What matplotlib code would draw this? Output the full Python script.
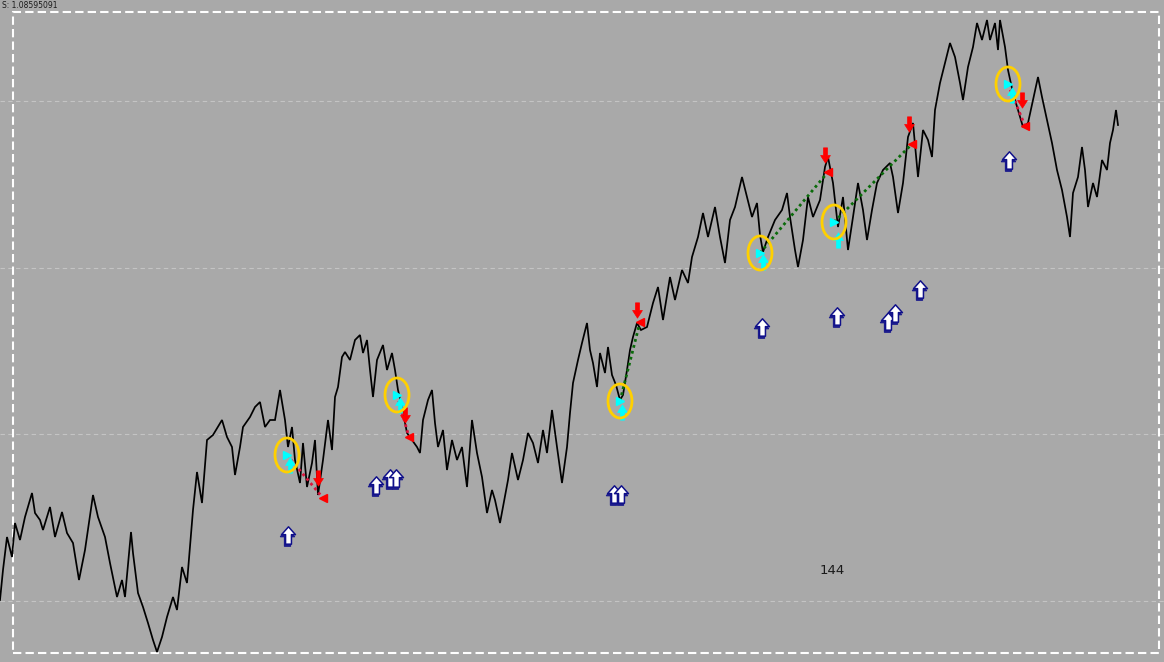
import matplotlib
matplotlib.use("Agg")
import matplotlib.pyplot as plt
from matplotlib.path import Path
from matplotlib.patches import Ellipse, Rectangle
import numpy as np

# ---- price series (bar index, price level) ----
bar_x = [0, 3, 7, 12, 15, 20, 25, 32, 35, 40, 43, 50, 55, 62, 67, 73, 79, 85, 93, 98,
         105, 110, 117, 122, 125, 131, 133, 138, 143, 148, 153, 157, 162, 167, 173, 177, 182, 187,
         193, 197, 202, 207, 213, 222, 227, 232, 235, 240, 243, 250, 255, 260, 265, 270, 275, 280,
         285, 288, 292, 295, 300, 303, 307, 312, 315, 318, 323, 328, 332, 335, 338, 342, 345, 350,
         355, 360, 363, 367, 370, 373, 377, 383, 387, 392, 395, 398, 402, 407, 412, 417, 420, 423,
         428, 432, 435, 438, 443, 447, 452, 457, 462, 467, 472, 477, 482, 487, 492, 495, 500, 503,
         508, 512, 518, 523, 528, 533, 538, 543, 547, 552, 557, 562, 567, 570, 573, 578, 582, 587,
         590, 593, 597, 600, 605, 608, 612, 616, 620, 623, 627, 630, 633, 637, 641, 647, 653, 658,
         663, 670, 675, 682, 688, 692, 698, 703, 708, 715, 720, 725, 730, 735, 742, 747, 752, 757,
         760, 763, 768, 775, 782, 787, 790, 795, 798, 803, 808, 813, 820, 825, 828, 833, 838, 843,
         848, 853, 858, 863, 867, 872, 877, 883, 890, 893, 898, 903, 908, 913, 918, 923, 928, 932,
         935, 940, 945, 950, 955, 960, 963, 968, 973, 977, 982, 987, 990, 995, 998, 1000, 1005,
         1008, 1013, 1018, 1023, 1028, 1033, 1038, 1042, 1047, 1052, 1057, 1062, 1067, 1070, 1073,
         1078, 1082, 1085, 1088, 1093, 1097, 1102, 1107, 1110, 1113, 1116, 1118]
price = [62, 92, 125, 105, 139, 122, 145, 169, 149, 142, 132, 155, 125, 150, 129, 119, 82, 112, 167, 145,
         125, 99, 65, 82, 65, 130, 109, 69, 55, 39, 22, 10, 25, 45, 65, 52, 95, 79,
         152, 190, 159, 222, 227, 242, 225, 215, 187, 215, 235, 245, 255, 260, 235, 242, 242, 272,
         242, 215, 235, 202, 179, 219, 175, 199, 222, 167, 202, 242, 212, 265, 275, 305, 310, 302,
         322, 327, 309, 322, 292, 265, 302, 317, 292, 309, 292, 272, 255, 229, 222, 215, 209, 242,
         262, 272, 239, 215, 232, 192, 222, 202, 215, 175, 242, 209, 185, 149, 172, 162, 139, 155,
         182, 209, 182, 202, 229, 219, 199, 232, 209, 252, 215, 179, 215, 249, 279, 302, 319, 339,
         312, 299, 275, 309, 289, 315, 287, 277, 262, 267, 292, 312, 325, 339, 332, 335, 359, 375,
         342, 385, 362, 392, 379, 405, 425, 449, 425, 455, 425, 399, 442, 455, 485, 465, 445, 459,
         427, 410, 425, 442, 452, 469, 445, 412, 395, 422, 465, 445, 462, 495, 505, 479, 435, 465,
         412, 445, 479, 452, 422, 452, 479, 492, 499, 485, 449, 479, 525, 539, 485, 532, 522, 505,
         552, 579, 599, 619, 605, 579, 562, 595, 615, 639, 622, 642, 622, 639, 612, 642, 615,
         592, 569, 552, 535, 539, 562, 585, 565, 542, 519, 492, 472, 445, 425, 469,
         485, 515, 492, 455, 479, 465, 502, 492, 519, 532, 552, 537]

grid_levels = [561, 394, 228, 61]

# ---- trade signals ----
entry_x = [287, 397, 620, 760, 834, 1008]
entry_y = [207, 267, 261, 409, 440, 578]
exit_x = [323, 409, 640, 828, 912, 1025]
exit_y = [164, 225, 340, 490, 518, 536]
trade_dir = ["down", "down", "up", "up", "up", "down"]
sell_arrow_x = [318, 405, 637, 825, 909, 1022]
sell_arrow_y = [184, 247, 352, 507, 538, 562]
cyan_arrow_x = [290, 400, 622, 763, 838, 1012]
cyan_arrow_y = [197, 257, 250, 400, 422, 567]
buy_x = [288, 376, 390, 396, 614, 621, 762, 837, 888, 895, 920, 1009]
buy_y = [127, 177, 184, 184, 168, 168, 335, 346, 341, 349, 373, 502]
label_text = "144"
label_pos = (832, 92)
header_text = "S: 1.08595091"

BG = "#A9A9A9"
fig = plt.figure(figsize=(11.64, 6.62), dpi=100, facecolor=BG)
ax = fig.add_axes([0, 0, 1, 1])
ax.set_facecolor(BG)
ax.set_xlim(0, 1164)
ax.set_ylim(0, 662)
ax.axis("off")

for g in grid_levels:
    ax.axhline(g, color="#C4C4C4", lw=0.8, ls=(0, (4, 3)), zorder=1)

ax.add_patch(Rectangle((13, 9), 1146, 641, fill=False, ec="white", lw=1.5,
                       ls=(0, (4, 2)), zorder=2))

ax.plot(bar_x, price, color="black", lw=1.25, zorder=3, solid_joinstyle="miter")

# arrow shapes
down_arrow = Path([(-0.13, 0.5), (0.13, 0.5), (0.13, 0.0), (0.32, 0.0), (0, -0.5),
                   (-0.32, 0.0), (-0.13, 0.0), (-0.13, 0.5)], closed=True)
up_arrow = Path([(-0.13, -0.5), (0.13, -0.5), (0.13, 0.0), (0.32, 0.0), (0, 0.5),
                 (-0.32, 0.0), (-0.13, 0.0), (-0.13, -0.5)], closed=True)
hollow_up = Path([(0, 0.5), (0.4, 0.05), (0.17, 0.05), (0.17, -0.5), (-0.17, -0.5),
                  (-0.17, 0.05), (-0.4, 0.05), (0, 0.5)], closed=True)

# dotted trade lines
for i in range(len(entry_x)):
    c = "#DC143C" if trade_dir[i] == "down" else "#0A6A0A"
    ax.plot([entry_x[i], exit_x[i]], [entry_y[i], exit_y[i]], color=c, lw=2,
            ls=(0, (1, 1.2)), zorder=4)

ax.plot(exit_x, exit_y, ls="none", marker="<", ms=5.5, color="red", mec="red", zorder=6)
ax.plot(sell_arrow_x, sell_arrow_y, ls="none", marker=down_arrow, ms=11,
        color="red", mec="red", mew=0.5, zorder=6)
ax.plot(entry_x, entry_y, ls="none", marker=">", ms=5.5, color="cyan", mec="cyan", zorder=6)
ax.plot(cyan_arrow_x, cyan_arrow_y, ls="none", marker=up_arrow, ms=11,
        color="cyan", mec="cyan", mew=0.5, zorder=6)

for x, y in zip(entry_x, entry_y):
    ax.add_patch(Ellipse((x, y), 24, 34, fill=False, ec="#FFD000", lw=2, zorder=7))

# hollow blue buy arrows with shadow
bx = np.array(buy_x)
by = np.array(buy_y)
ax.plot(bx - 1.5, by - 1.5, ls="none", marker=hollow_up, ms=12.5, color="#1C1C8C",
        mec="#1C1C8C", mew=1.0, zorder=8)
ax.plot(bx, by, ls="none", marker=hollow_up, ms=12.5, color="white",
        mec="#10108A", mew=1.1, zorder=9)

ax.text(label_pos[0], label_pos[1], label_text, fontsize=9.5, color="#1A1A1A",
        ha="center", va="center", family="DejaVu Sans", zorder=10)
ax.text(2, 661, header_text, fontsize=5.5, color="#1A1A1A", ha="left",
        va="top", zorder=10)

fig.savefig("out.png", dpi=100, facecolor=BG)
